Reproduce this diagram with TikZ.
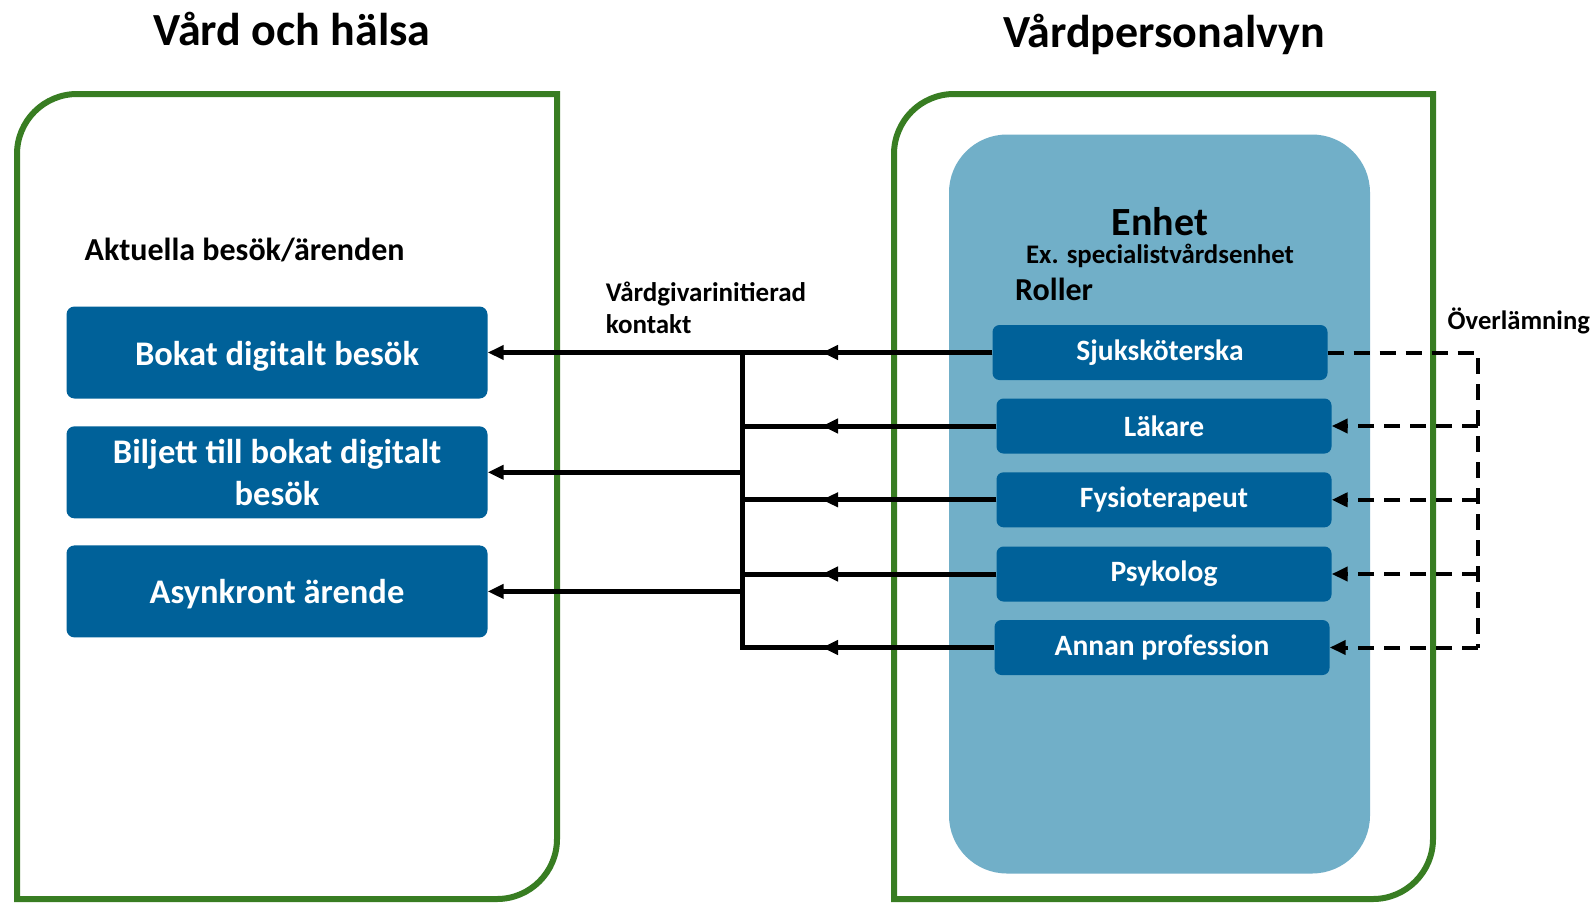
\documentclass[tikz,border=0pt]{standalone}
\usepackage{fontspec}
\setmainfont{Carlito}
\usetikzlibrary{arrows.meta}
\definecolor{frgreen}{RGB}{56,125,34}
\definecolor{dblue}{RGB}{0,97,153}
\definecolor{lblue}{RGB}{113,175,200}
\newcommand{\fsz}[1]{\bfseries\fontsize{#1}{#1}\selectfont}
\begin{document}
\begin{tikzpicture}[x=1pt,y=-1pt,
  frame/.style={draw=frgreen,line width=6pt,line join=miter},
  box/.style={fill=dblue,rounded corners=8pt,text=white,font=\fsz{34.5},align=center,inner sep=0pt,minimum width=421pt,minimum height=92pt},
  oneline/.style={text height=25pt,text depth=0pt},
  role/.style={fill=dblue,rounded corners=7pt,text=white,font=\fsz{29.5},inner sep=0pt,minimum width=335pt,minimum height=55pt},
  lbl/.style={inner sep=0pt,text=black},
  conn/.style={line width=5pt},
  tip/.style={-{Triangle[length=16pt,width=14pt]}},
  dashconn/.style={line width=4pt,dash pattern=on 16pt off 10pt}
]
\fill[white] (0,0) rectangle (1596,903);
\useasboundingbox (0,0) rectangle (1596,903);

% titles
\node[lbl,font=\fsz{46}] (t1) at (292,29) {Vård och hälsa};
\node[lbl,font=\fsz{46}] (t2) at (1164,34) {Vårdpersonalvyn};

% frames
\draw[frame] (17,899) -- (17,154) .. controls (17,120.9) and (43.9,94) .. (77,94) -- (557,94) -- (557,839) .. controls (557,872.1) and (530.1,899) .. (497,899) -- cycle;
\draw[frame] (894,899) -- (894,154) .. controls (894,120.9) and (920.9,94) .. (954,94) -- (1433,94) -- (1433,839) .. controls (1433,872.1) and (1406.1,899) .. (1373,899) -- cycle;

% unit
\node[fill=lblue,rounded corners=58pt,minimum width=421pt,minimum height=739pt,inner sep=0pt] (unit) at (1159.5,504) {};
\node[lbl,font=\fsz{40}] (enh) at (1160,222) {Enhet};
\node[lbl,font=\fsz{26.8}] (ex) at (1160,256) {Ex. specialistvårdsenhet};
\node[lbl,font=\fsz{32},anchor=west] (rol) at (1015,289) {Roller};

% left content
\node[lbl,font=\fsz{32},anchor=west] (akt) at (84.5,249.5) {Aktuella besök/ärenden};
\node[box,oneline] (b1) at (277,352.5) {Bokat digitalt besök};
\node[box] (b2) at (277,472.3) {Biljett till bokat digitalt\\[7pt]besök};
\node[box,oneline] (b3) at (277,591.4) {Asynkront ärende};

\node[lbl,font=\fsz{27},anchor=west,align=left] (vgk) at (605.6,308) {Vårdgivarinitierad\\[5pt]kontakt};
\node[lbl,font=\fsz{26.6},anchor=west] (ovl) at (1447.5,321) {Överlämning};

% roles
\node[role] (r1) at (1160,352.5) {Sjuksköterska};
\node[role] (r2) at (1164,426) {Läkare};
\node[role] (r3) at (1164,499.8) {Fysioterapeut};
\node[role] (r4) at (1164,574) {Psykolog};
\node[role] (r5) at (1162,647.5) {Annan profession};

\coordinate (bus) at (742,0);
\coordinate (ax) at (822,0);
\coordinate (dx) at (1478,0);

% solid connectors
\foreach \r in {r1,r2,r3,r4,r5}{
  \draw[conn] (\r.west) -- (\r.west -| bus);
  \draw[conn,tip] (\r.west) -- (\r.west -| ax);
}
\draw[conn,line cap=rect] (r1.west -| bus) -- (r5.west -| bus);
\draw[conn,tip] (r1.west -| bus) -- (b1.east);
\draw[conn,tip] (b2.east -| bus) -- (b2.east);
\draw[conn,tip] (b3.east -| bus) -- (b3.east);

% dashed connectors
\draw[dashconn] (r1.east) -- (r1.east -| dx) -- (r5.east -| dx);
\foreach \r in {r2,r3,r4,r5}{
  \draw[dashconn,tip] (\r.east -| dx) -- (\r.east);
}
\end{tikzpicture}
\end{document}
